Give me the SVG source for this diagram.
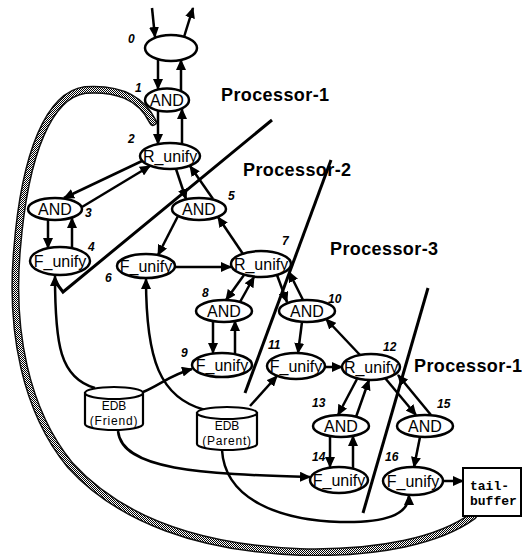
<svg xmlns="http://www.w3.org/2000/svg" width="528" height="556" viewBox="0 0 528 556">
<style>
.n ellipse{fill:#fff;stroke:#000;stroke-width:2.5}
.t{font-family:"Liberation Sans",Arial,sans-serif;font-size:16px;text-anchor:middle;fill:#000}
.num{font-family:"Liberation Sans",Arial,sans-serif;font-size:12px;font-style:italic;font-weight:bold;fill:#000}
.proc{font-family:"Liberation Sans",Arial,sans-serif;font-size:18px;font-weight:bold;fill:#000;letter-spacing:0.4px}
.c path{fill:none;stroke:#000;stroke-width:2.5;marker-end:url(#ah)}
.div{fill:none;stroke:#000;stroke-width:3}
.db path,.db ellipse{fill:#fff;stroke:#000;stroke-width:2.2}
.dbt{font-family:"Liberation Sans",Arial,sans-serif;font-size:12px;text-anchor:middle;fill:#000}
.mono{font-family:"Liberation Mono","Courier New",monospace;font-size:13px;font-weight:bold;fill:#000}
</style>
<defs>
<marker id="ah" viewBox="0 0 11 10" refX="10" refY="5" markerWidth="11" markerHeight="10" markerUnits="userSpaceOnUse" orient="auto">
<path d="M0,0 L11,5 L0,10 z" fill="#000"/>
</marker>
<pattern id="dither" width="2" height="2" patternUnits="userSpaceOnUse">
<rect width="2" height="2" fill="#fff"/>
<rect width="1" height="1" fill="#000"/>
<rect x="1" y="1" width="1" height="1" fill="#000"/>
</pattern>
</defs>
<rect width="528" height="556" fill="#fff"/>

<!-- processor dividing lines -->
<g id="dividers">
<polyline class="div" points="57,284 63,292 272,120"/>
<line class="div" x1="331" y1="160" x2="245" y2="393"/>
<line class="div" x1="428" y1="288" x2="363" y2="513"/>
</g>

<!-- thick hatched feedback band -->
<g id="feedback">
<path d="M153,122 C140,95 115,88 85,90 C50,95 25,150 17,250 C10,330 25,410 70,465 C120,520 200,548 300,552 C380,554 440,540 473,516" fill="none" stroke="#111" stroke-width="8" stroke-linecap="round"/>
<path d="M153,122 C140,95 115,88 85,90 C50,95 25,150 17,250 C10,330 25,410 70,465 C120,520 200,548 300,552 C380,554 440,540 473,516" fill="none" stroke="url(#dither)" stroke-width="5" stroke-linecap="round"/>
</g>

<g id="connectors" class="c">
<path d="M152,8 L155,37"/>
<path d="M184,37 L193,8"/>
<path d="M158,60 L158,89"/>
<path d="M181,91 L181,60"/>
<path d="M158,111 L158,144"/>
<path d="M182,144 L182,109"/>
<path d="M142,161 L64,198"/>
<path d="M82,207 L150,166"/>
<path d="M48,220 L48,248"/>
<path d="M72,248 L72,218"/>
<path d="M176,169 L186,199"/>
<path d="M213,199 L190,166"/>
<path d="M178,216 L158,255"/>
<path d="M243,254 L218,217"/>
<path d="M175,267 L231,267"/>
<path d="M244,275 L226,300"/>
<path d="M240,302 L254,277"/>
<path d="M213,321 L213,353"/>
<path d="M235,354 L235,321"/>
<path d="M277,275 L287,302"/>
<path d="M303,300 L289,272"/>
<path d="M302,322 L298,353"/>
<path d="M360,355 L326,319"/>
<path d="M325,367 L342,367"/>
<path d="M357,379 L338,415"/>
<path d="M356,417 L369,380"/>
<path d="M385,378 L416,415"/>
<path d="M431,415 L398,375"/>
<path d="M330,436 L330,467"/>
<path d="M353,468 L353,436"/>
<path d="M420,437 L414,467"/>
<path d="M443,481 L463,481"/>
<path d="M143,392 C160,385 170,375 192,369"/>
<path d="M95,388 C60,378 55,345 55,276"/>
<path d="M205,410 C160,398 146,360 146,279"/>
<path d="M250,406 L277,376"/>
<path d="M118,431 C122,470 200,474 310,477"/>
<path d="M222,450 C225,500 280,520 340,522 C385,523 409,515 409,495"/>
</g>

<g id="n0" class="n"><ellipse cx="171" cy="48" rx="26" ry="13"/><text class="num" x="128" y="43">0</text></g>
<g id="n1" class="n"><ellipse cx="167" cy="100" rx="22" ry="11.5"/><text class="t" x="167" y="106">AND</text><text class="num" x="135" y="92">1</text></g>
<g id="n2" class="n"><ellipse cx="170" cy="156" rx="30" ry="13"/><text class="t" x="170" y="162">R_unify</text><text class="num" x="128" y="143">2</text></g>
<g id="n3" class="n"><ellipse cx="55" cy="209" rx="27" ry="11"/><text class="t" x="55" y="215">AND</text><text class="num" x="85" y="217">3</text></g>
<g id="n4" class="n"><ellipse cx="60" cy="261" rx="30" ry="14"/><text class="t" x="60" y="267">F_unify</text><text class="num" x="88" y="251">4</text></g>
<g id="n5" class="n"><ellipse cx="199" cy="209" rx="27" ry="11"/><text class="t" x="199" y="215">AND</text><text class="num" x="228" y="200">5</text></g>
<g id="n6" class="n"><ellipse cx="146" cy="266" rx="29" ry="12"/><text class="t" x="146" y="272">F_unify</text><text class="num" x="105" y="282">6</text></g>
<g id="n7" class="n"><ellipse cx="261" cy="264" rx="30" ry="13"/><text class="t" x="261" y="270">R_unify</text><text class="num" x="282" y="245">7</text></g>
<g id="n8" class="n"><ellipse cx="224" cy="311" rx="28" ry="11"/><text class="t" x="224" y="317">AND</text><text class="num" x="202" y="297">8</text></g>
<g id="n9" class="n"><ellipse cx="222" cy="365" rx="30" ry="12"/><text class="t" x="222" y="371">F_unify</text><text class="num" x="181" y="357">9</text></g>
<g id="n10" class="n"><ellipse cx="307" cy="311" rx="28" ry="11"/><text class="t" x="307" y="317">AND</text><text class="num" x="328" y="303">10</text></g>
<g id="n11" class="n"><ellipse cx="296" cy="366" rx="29" ry="13"/><text class="t" x="296" y="372">F_unify</text><text class="num" x="268" y="349">11</text></g>
<g id="n12" class="n"><ellipse cx="371" cy="367" rx="29" ry="13"/><text class="t" x="371" y="373">R_unify</text><text class="num" x="383" y="351">12</text></g>
<g id="n13" class="n"><ellipse cx="341" cy="426" rx="28" ry="11"/><text class="t" x="341" y="432">AND</text><text class="num" x="312" y="407">13</text></g>
<g id="n14" class="n"><ellipse cx="339" cy="480" rx="29" ry="13"/><text class="t" x="339" y="486">F_unify</text><text class="num" x="312" y="461">14</text></g>
<g id="n15" class="n"><ellipse cx="425" cy="426" rx="28" ry="11"/><text class="t" x="425" y="432">AND</text><text class="num" x="437" y="408">15</text></g>
<g id="n16" class="n"><ellipse cx="413" cy="481" rx="30" ry="14"/><text class="t" x="413" y="487">F_unify</text><text class="num" x="385" y="461">16</text></g>

<g id="edb-friend" class="db">
<path d="M85,393 V424 A29,6 0 0 0 143,424 V393 Z"/>
<ellipse cx="114" cy="393" rx="29" ry="6"/>
<text class="dbt" x="114" y="410">EDB</text>
<text class="dbt" x="114" y="425" style="letter-spacing:0.8px">(Friend)</text>
</g>
<g id="edb-parent" class="db">
<path d="M197,413 V444 A30,6 0 0 0 257,444 V413 Z"/>
<ellipse cx="227" cy="413" rx="30" ry="6"/>
<text class="dbt" x="227" y="430">EDB</text>
<text class="dbt" x="227" y="445" style="letter-spacing:0.8px">(Parent)</text>
</g>

<g id="tail-buffer">
<rect x="463" y="468" width="58" height="48" fill="#fff" stroke="#000" stroke-width="2"/>
<text class="mono" x="470" y="490">tail-</text>
<text class="mono" x="470" y="505">buffer</text>
</g>

<g id="labels">
<text class="proc" x="221" y="101">Processor-1</text>
<text class="proc" x="243" y="176">Processor-2</text>
<text class="proc" x="330" y="255">Processor-3</text>
<text class="proc" x="414" y="372">Processor-1</text>
</g>
</svg>
